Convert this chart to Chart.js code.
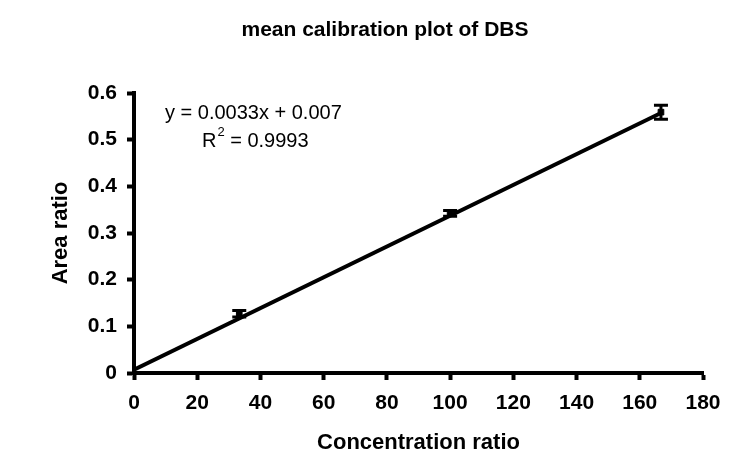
<!DOCTYPE html>
<html>
<head>
<meta charset="utf-8">
<script src="https://cdn.jsdelivr.net/npm/chart.js@4.4.0/dist/chart.umd.min.js"></script>
<style>
  html, body { margin: 0; padding: 0; background: #fff; }
  #wrap { width: 749px; height: 469px; }
</style>
</head>
<body>
<div id="wrap"><canvas id="calChart" width="749" height="469"></canvas></div>
<script>
// data
const concRatio = [33.3, 100, 166.7];
const areaRatio = [0.127, 0.342, 0.559];
const areaSd = [0.007, 0.006, 0.015];
const fitX = [0, 166.7];
const fitY = [0.007, 0.557];
const xTicks = [0, 20, 40, 60, 80, 100, 120, 140, 160, 180];
const yTicks = [0, 0.1, 0.2, 0.3, 0.4, 0.5, 0.6];
const chartTitle = 'mean calibration plot of DBS';
const eqText = 'y = 0.0033x + 0.007';
const r2Text = '0.9993';

const fontFam = '"Liberation Sans", Arial, sans-serif';

// error bars drawn through the scales
const errorBars = {
    id: 'errorBars',
    afterDatasetsDraw(chart) {
        const ctx = chart.ctx;
        const xs = chart.scales.x, ys = chart.scales.y;
        ctx.save();
        ctx.strokeStyle = '#000';
        ctx.lineWidth = 3;
        concRatio.forEach((cx, i) => {
            const px = xs.getPixelForValue(cx);
            const top = ys.getPixelForValue(areaRatio[i] + areaSd[i]);
            const bot = ys.getPixelForValue(areaRatio[i] - areaSd[i]);
            ctx.beginPath();
            ctx.moveTo(px, top); ctx.lineTo(px, bot);
            ctx.moveTo(px - 7, top); ctx.lineTo(px + 7, top);
            ctx.moveTo(px - 7, bot); ctx.lineTo(px + 7, bot);
            ctx.stroke();
        });
        ctx.restore();
    }
};

// chart title + regression equation text
const textBits = {
    id: 'textBits',
    afterDraw(chart) {
        const ctx = chart.ctx;
        const xs = chart.scales.x, ys = chart.scales.y;
        ctx.save();
        ctx.fillStyle = '#000';
        ctx.textBaseline = 'middle';

        ctx.font = 'bold 21px ' + fontFam;
        ctx.textAlign = 'center';
        ctx.fillText(chartTitle, 385, 30);

        ctx.textAlign = 'left';
        ctx.font = '20px ' + fontFam;
        ctx.fillText(eqText, xs.getPixelForValue(9.8), ys.getPixelForValue(0.557));
        const rx = xs.getPixelForValue(21.5), ry = ys.getPixelForValue(0.497);
        ctx.fillText('R', rx, ry);
        const rw = ctx.measureText('R').width;
        ctx.font = '13px ' + fontFam;
        ctx.fillText('2', rx + rw + 1, ry - 9);
        const sw = ctx.measureText('2').width;
        ctx.font = '20px ' + fontFam;
        ctx.fillText(' = ' + r2Text, rx + rw + sw + 1, ry);
        ctx.restore();
    }
};

const axisCommon = {
    type: 'linear',
    border: { display: true, color: '#000', width: 4 },
    grid: {
        display: true,
        drawOnChartArea: false,
        drawTicks: true,
        tickLength: 7,
        tickWidth: 4,
        tickColor: '#000'
    },
    title: {
        display: true,
        color: '#000',
        font: { family: fontFam, size: 22, weight: 'bold' }
    },
    ticks: {
        color: '#000',
        font: { family: fontFam, size: 21, weight: 'bold' }
    }
};

const ctx = document.getElementById('calChart').getContext('2d');
new Chart(ctx, {
    type: 'scatter',
    data: {
        datasets: [
            {
                label: 'fit',
                type: 'line',
                data: fitX.map((x, i) => ({ x: x, y: fitY[i] })),
                borderColor: '#000',
                borderWidth: 4,
                pointRadius: 0,
                fill: false
            },
            {
                label: 'mean',
                data: concRatio.map((x, i) => ({ x: x, y: areaRatio[i] })),
                backgroundColor: '#000',
                borderColor: '#000',
                pointStyle: 'rect',
                pointRadius: 4
            }
        ]
    },
    options: {
        responsive: false,
        animation: false,
        layout: { padding: { left: 0, right: 46, top: 93, bottom: 0 } },
        plugins: {
            legend: { display: false },
            tooltip: { enabled: false },
            title: { display: false }
        },
        scales: {
            x: Object.assign({}, axisCommon, {
                min: 0, max: 180,
                afterBuildTicks: (s) => { s.ticks = xTicks.map(v => ({ value: v })); },
                afterFit: (s) => { s.height = 96; },
                title: Object.assign({}, axisCommon.title, { text: 'Concentration ratio', padding: { top: 0, bottom: 13 } }),
                ticks: Object.assign({}, axisCommon.ticks, { padding: 11 })
            }),
            y: Object.assign({}, axisCommon, {
                min: 0, max: 0.6,
                afterBuildTicks: (s) => { s.ticks = yTicks.map(v => ({ value: v })); },
                afterFit: (s) => { s.width = 134; },
                title: Object.assign({}, axisCommon.title, { text: 'Area ratio', padding: { top: 48, bottom: 0 } }),
                ticks: Object.assign({}, axisCommon.ticks, { padding: 10, callback: (v) => String(v) })
            })
        }
    },
    plugins: [errorBars, textBits]
});
</script>
</body>
</html>
